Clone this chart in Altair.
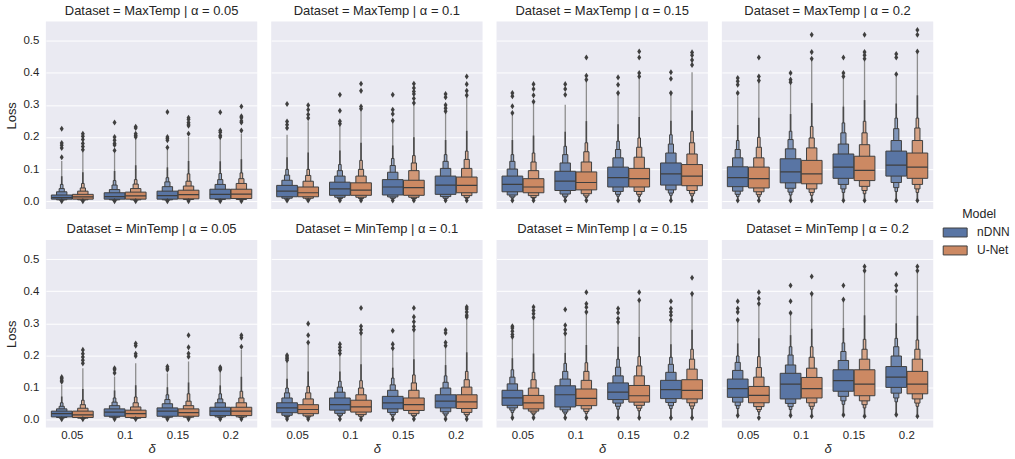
import altair as alt
import pandas as pd

DATASETS = ["MaxTemp", "MinTemp"]
ALPHAS = ["0.05", "0.1", "0.15", "0.2"]
DELTAS = ["0.05", "0.1", "0.15", "0.2"]
MODELS = ["nDNN", "U-Net"]

# one row per panel (MaxTemp a=.05,.1,.15,.2, MinTemp a=.05,.1,.15,.2)
# columns: (d=.05 nDNN, d=.05 U-Net, d=.1 nDNN, d=.1 U-Net, d=.15 ..., d=.2 ...)
Q1 = [
    [.006, .006, .006, .006, .006, .007, .007, .008],
    [.0135, .0135, .018, .018, .019, .018, .021, .026],
    [.029, .026, .033, .035, .044, .044, .050, .048],
    [.045, .041, .057, .054, .071, .064, .078, .071],
    [.008, .006, .010, .006, .010, .010, .012, .012],
    [.021, .018, .029, .023, .033, .028, .036, .034],
    [.044, .033, .039, .043, .062, .054, .065, .064],
    [.069, .052, .064, .067, .088, .074, .100, .080],
]
MED = [
    [.011, .013, .014, .016, .017, .020, .021, .022],
    [.031, .026, .038, .034, .044, .042, .050, .049],
    [.052, .044, .062, .058, .073, .070, .085, .078],
    [.073, .070, .091, .085, .106, .096, .112, .106],
    [.018, .014, .023, .018, .026, .021, .026, .026],
    [.036, .031, .046, .039, .052, .046, .057, .055],
    [.067, .052, .077, .066, .085, .074, .093, .091],
    [.096, .075, .110, .096, .121, .110, .132, .110],
]
Q3 = [
    [.019, .021, .026, .028, .031, .034, .037, .037],
    [.049, .044, .059, .057, .067, .065, .078, .075],
    [.078, .070, .093, .091, .106, .102, .119, .114],
    [.107, .106, .132, .127, .147, .140, .156, .150],
    [.026, .026, .033, .029, .036, .033, .038, .038],
    [.052, .046, .067, .060, .072, .067, .077, .077],
    [.091, .075, .105, .095, .114, .106, .122, .124],
    [.126, .103, .144, .131, .155, .155, .165, .150],
]
L2LO = [
    [.004, .004, .004, .004, .004, .005, .005, .005],
    [.009, .009, .012, .012, .013, .012, .014, .017],
    [.019, .017, .022, .023, .030, .030, .035, .033],
    [.031, .029, .040, .038, .052, .046, .058, .052],
    [.006, .004, .007, .004, .007, .007, .008, .008],
    [.013, .011, .019, .015, .022, .018, .024, .022],
    [.036, .026, .030, .033, .051, .044, .053, .052],
    [.054, .040, .050, .052, .072, .058, .082, .064],
]
L2HI = [
    [.029, .031, .036, .039, .045, .047, .052, .055],
    [.065, .062, .078, .078, .090, .095, .102, .102],
    [.100, .095, .119, .122, .135, .137, .150, .147],
    [.135, .135, .163, .166, .178, .176, .189, .189],
    [.033, .035, .043, .039, .049, .043, .052, .052],
    [.067, .064, .085, .077, .091, .091, .098, .101],
    [.111, .098, .126, .122, .136, .136, .147, .157],
    [.153, .132, .170, .160, .184, .188, .198, .188],
]
L3LO = [
    [.003, .003, .003, .003, .003, .004, .004, .004],
    [.006, .006, .008, .008, .009, .008, .009, .011],
    [.013, .011, .015, .016, .021, .021, .025, .023],
    [.021, .020, .028, .027, .038, .033, .042, .038],
    [.004, .003, .005, .003, .005, .005, .006, .006],
    [.009, .008, .013, .010, .015, .012, .017, .015],
    [.029, .020, .023, .025, .041, .035, .043, .042],
    [.043, .031, .040, .041, .058, .046, .067, .051],
]
L3HI = [
    [.039, .041, .050, .053, .060, .062, .067, .070],
    [.081, .080, .095, .099, .111, .119, .124, .130],
    [.124, .122, .145, .154, .161, .168, .178, .182],
    [.161, .168, .192, .197, .213, .213, .226, .228],
    [.041, .046, .054, .052, .062, .057, .064, .067],
    [.083, .083, .101, .098, .108, .114, .116, .124],
    [.132, .124, .150, .150, .163, .167, .172, .188],
    [.178, .162, .201, .194, .212, .219, .227, .219],
]
L4LO = [
    [.002, .002, .002, .002, .002, .003, .003, .003],
    [.004, .004, .005, .005, .006, .005, .006, .007],
    [.009, .008, .010, .011, .015, .015, .018, .016],
    [.014, .013, .019, .018, .027, .023, .030, .027],
    [.003, .002, .004, .002, .004, .004, .004, .004],
    [.006, .005, .009, .007, .010, .008, .011, .010],
    [.022, .015, .017, .019, .032, .027, .034, .033],
    [.034, .024, .031, .032, .047, .036, .055, .041],
]
L4HI = [
    [.052, .055, .064, .067, .073, .085, .086, .088],
    [.099, .099, .114, .127, .133, .142, .145, .156],
    [.145, .150, .171, .182, .187, .197, .207, .218],
    [.189, .199, .218, .233, .244, .249, .259, .259],
    [.052, .060, .067, .070, .077, .080, .080, .088],
    [.098, .103, .119, .121, .129, .139, .136, .150],
    [.155, .147, .175, .177, .188, .196, .194, .219],
    [.198, .196, .227, .227, .239, .250, .253, .248],
]
TAIL_LO = [
    [.001] * 8,
    [.002] * 8,
    [.004] * 8,
    [.006] * 8,
    [.002] * 8,
    [.003] * 8,
    [.008] * 8,
    [.014] * 8,
]
TAIL_HI = [
    [.125, .155, .150, .195, .165, .200, .195, .210],
    [.207, .249, .239, .285, .249, .306, .275, .337],
    [.275, .306, .301, .375, .337, .384, .332, .402],
    [.327, .373, .371, .441, .389, .438, .389, .462],
    [.108, .160, .134, .175, .144, .181, .155, .217],
    [.181, .237, .206, .268, .222, .279, .232, .320],
    [.258, .315, .268, .335, .299, .372, .310, .392],
    [.310, .361, .330, .387, .372, .464, .387, .464],
]
LOW_OUT = [
    [.000] * 8,
    [.002] * 8,
    [.002] * 8,
    [.002] * 8,
    [.001] * 8,
    [.001] * 8,
    [.005] * 8,
    [.012, .005, .012, .010, .014, .010, .015, .010],
]
HIGH_OUT = [
    [[.137, .166, .174, .181, .226], [.16, .17, .18, .192, .202, .21],
     [.158, .175, .18, .19, .2, .245], [.2, .205, .21, .228, .232],
     [.167, .19, .195, .2, .278], [.21, .235, .24, .245, .255, .26],
     [.2, .205, .215, .22, .277], [.22, .245, .25, .26, .265, .295]],
    [[.228, .238, .248, .303], [.259, .27, .285, .299],
     [.241, .249, .282, .332], [.288, .295, .344, .366],
     [.251, .272, .285, .332], [.306, .32, .334, .342, .353, .366],
     [.28, .29, .3, .324, .334], [.33, .344, .365, .389]],
    [[.275, .296, .327, .337], [.31, .33, .35, .365],
     [.332, .35, .365], [.379, .391, .448],
     [.337, .363, .386], [.389, .4, .448, .467],
     [.337, .382, .402], [.425, .44, .455, .464]],
    [[.337, .363, .374, .384], [.376, .389, .448],
     [.371, .379, .40], [.444, .465, .519],
     [.389, .4, .448], [.444, .455, .465, .519],
     [.396, .448, .459], [.467, .519, .534]],
    [[.118, .122, .128, .132], [.175, .185, .195, .205, .217],
     [.145, .155, .16], [.198, .205, .23, .237],
     [.155, .16, .165], [.196, .206, .225, .263],
     [.155, .16, .163], [.227, .255, .263]],
    [[.185, .19, .195, .2], [.24, .263, .299],
     [.206, .215, .225, .235], [.27, .28, .291, .348],
     [.222, .235, .277], [.28, .29, .305, .32, .348],
     [.23, .24, .27, .279], [.32, .325, .335, .345, .351]],
    [[.258, .265, .275, .285, .291], [.318, .33, .34, .351],
     [.268, .28, .294, .343], [.335, .35, .361, .397],
     [.304, .315, .333, .346], [.372, .397],
     [.31, .325, .335, .346, .369], [.392, .442]],
    [[.31, .335, .346, .369], [.361, .377, .397],
     [.332, .369, .418], [.392, .446],
     [.374, .418], [.464, .477],
     [.402, .418, .454], [.464, .477]],
]

# ---- styling ----
FONT = "Liberation Sans"
GRAY = "#3f3f3f"
BASE = {"nDNN": (89, 117, 164), "U-Net": (204, 137, 99)}
TINT = {1: 0.0, 2: 0.12, 3: 0.24, 4: 0.36}
BOXW = 20.8


def tint(rgb, t):
    r, g, b = (round(c + (255 - c) * t) for c in rgb)
    return f"#{r:02x}{g:02x}{b:02x}"


CKEYS, CRANGE = [], []
for m in MODELS:
    for lv in (1, 2, 3, 4):
        CKEYS.append(f"{m}-{lv}")
        CRANGE.append(tint(BASE[m], TINT[lv]))

# ---- build long table ----
rows = []
TITLES = []
panels = [(ds, a) for ds in DATASETS for a in ALPHAS]
boxes = [(d, m) for d in DELTAS for m in MODELS]
for p, (ds, a) in enumerate(panels):
    title = f"Dataset = {ds} | α = {a}"
    TITLES.append(title)
    for b, (d, m) in enumerate(boxes):
        base = dict(title=title, delta=d, model=m)
        levels = [
            (1, Q1[p][b], Q3[p][b]),
            (2, L2LO[p][b], L2HI[p][b]),
            (3, L3LO[p][b], L3HI[p][b]),
            (4, L4LO[p][b], L4HI[p][b]),
        ]
        for lv, lo, hi in levels:
            rows.append({**base, "kind": "box", "level": lv, "lo": lo, "hi": hi,
                         "ckey": f"{m}-{lv}"})
        rows.append({**base, "kind": "med", "lo": MED[p][b], "hi": MED[p][b]})
        rows.append({**base, "kind": "tail", "lo": TAIL_LO[p][b],
                     "hi": TAIL_HI[p][b], "l4": L4HI[p][b]})
        rows.append({**base, "kind": "out", "val": LOW_OUT[p][b]})
        for v in HIGH_OUT[p][b]:
            rows.append({**base, "kind": "out", "val": v})
df = pd.DataFrame(rows)

YDOM = [-0.0249, 0.5601]
xenc = alt.X("delta:N", sort=DELTAS,
             scale=alt.Scale(domain=DELTAS, paddingInner=0, paddingOuter=0),
             axis=alt.Axis(title="δ", labelAngle=0, grid=False, labelPadding=2,
                           titleFontStyle="italic", titlePadding=2))
xoff = alt.XOffset("model:N", scale=alt.Scale(domain=MODELS, paddingOuter=0.25,
                                               paddingInner=0))
yaxis = alt.Axis(title="Loss", values=[0, 0.1, 0.2, 0.3, 0.4, 0.5], format=".1f",
                 grid=True, labelPadding=7, titlePadding=4)
yscale = alt.Scale(domain=YDOM, nice=False, zero=False)


def ylo():
    return alt.Y("lo:Q", scale=yscale, axis=yaxis)


tail_full = alt.Chart().mark_bar(color="#8d8d8d").encode(
    x=xenc, xOffset=xoff, y=ylo(), y2="hi:Q", size=alt.value(1.3)
).transform_filter(alt.datum.kind == "tail")

tail_dark = alt.Chart().mark_bar(color="#4a4a4a").encode(
    x=xenc, xOffset=xoff, y=ylo(), y2="mid:Q", size=alt.value(1.6)
).transform_filter(alt.datum.kind == "tail").transform_calculate(
    mid="datum.l4 + 0.35 * (datum.hi - datum.l4)")


def level_layer(lv):
    return alt.Chart().mark_bar(stroke=GRAY, strokeWidth=1).encode(
        x=xenc, xOffset=xoff, y=ylo(), y2="hi:Q",
        color=alt.Color("ckey:N", scale=alt.Scale(domain=CKEYS, range=CRANGE),
                        legend=None),
        size=alt.Size("w:Q", scale=None),
    ).transform_filter(
        (alt.datum.kind == "box") & (alt.datum.level == lv)
    ).transform_calculate(w=f"{BOXW} / pow(2, datum.level - 1)")


RECT = "M-2.4,-0.9H2.4V0.9H-2.4Z"
level1 = alt.Chart().mark_bar(stroke=GRAY, strokeWidth=1).encode(
    x=xenc, xOffset=xoff, y=ylo(), y2="hi:Q",
    fill=alt.Fill("model:N", scale=alt.Scale(domain=MODELS,
                                             range=[CRANGE[0], CRANGE[4]]),
                  legend=alt.Legend(title="Model", orient="none", legendX=906,
                                    legendY=187, symbolType=RECT, symbolSize=100,
                                    symbolStrokeColor=GRAY, symbolStrokeWidth=1,
                                    symbolOpacity=1, labelFont=FONT, titleFont=FONT,
                                    labelFontSize=12, titleFontSize=12.5,
                                    titleFontWeight="normal", labelColor="#262626",
                                    titleColor="#262626", rowPadding=4,
                                    labelOffset=16, titleAnchor="middle",
                                    titlePadding=6)),
    size=alt.value(BOXW),
).transform_filter((alt.datum.kind == "box") & (alt.datum.level == 1))

median = alt.Chart().mark_bar(stroke=GRAY, strokeWidth=1.2, fillOpacity=0).encode(
    x=xenc, xOffset=xoff, y=ylo(), y2="hi:Q", size=alt.value(BOXW)
).transform_filter(alt.datum.kind == "med")

DIAMOND = "M0,-1.3L0.85,0L0,1.3L-0.85,0Z"
outl = alt.Chart().mark_point(shape=DIAMOND, filled=True, color=GRAY, opacity=1,
                              size=22).encode(
    x=xenc, xOffset=xoff,
    y=alt.Y("val:Q", scale=yscale, axis=yaxis),
).transform_filter(alt.datum.kind == "out")

layers = alt.layer(
    tail_full, tail_dark, level_layer(4), level_layer(3), level_layer(2), level1,
    median, outl, data=df
).properties(width=212, height=188)

chart = layers.facet(
    facet=alt.Facet("title:N", sort=TITLES, title=None,
                    header=alt.Header(labelFont=FONT, labelFontSize=13,
                                      labelColor="#262626", labelPadding=4)),
    columns=4,
    spacing={"row": 14, "column": 14},
).resolve_scale(color="independent").configure_view(
    fill="#EAEAF2", stroke=None
).configure_axis(
    labelFont=FONT, titleFont=FONT, labelColor="#262626", titleColor="#262626",
    labelFontSize=11.5, titleFontSize=13, titleFontWeight="normal",
    domain=False, ticks=False, gridColor="white", gridWidth=1
).properties(
    background="white", padding={"left": 6, "top": 4, "right": 5, "bottom": 5}
)

chart.save("out.html", embed_options={"renderer": "svg", "actions": False})
